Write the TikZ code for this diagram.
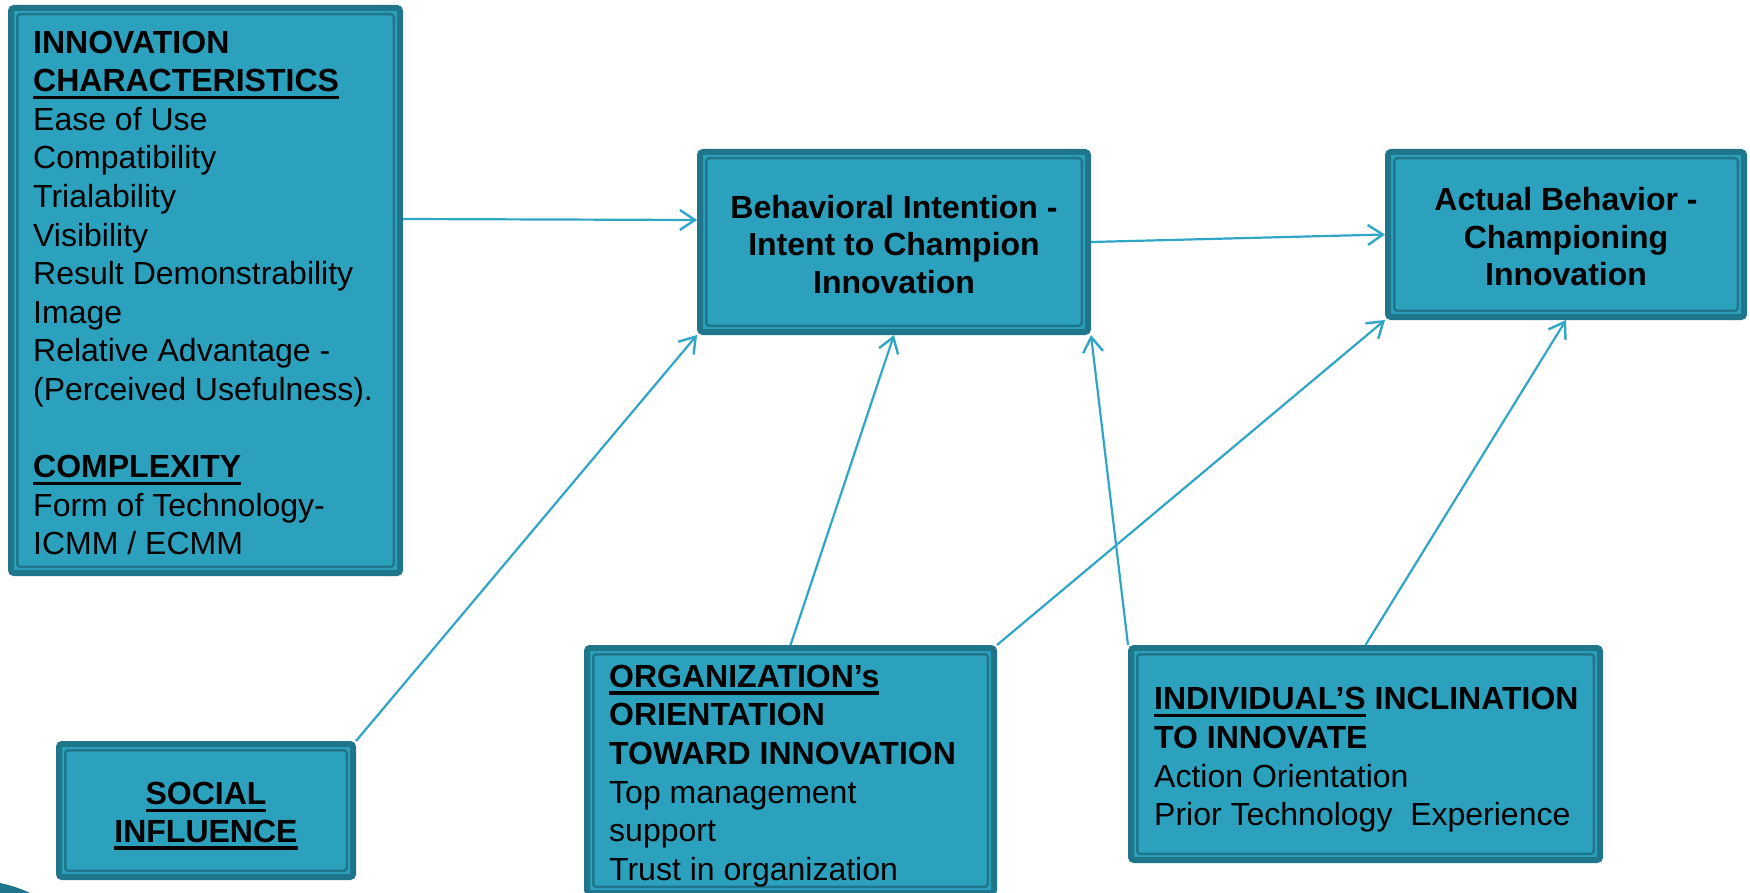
\documentclass[tikz,border=0pt]{standalone}
\usepackage{fontspec}
\setmainfont{Liberation Sans}
\usetikzlibrary{arrows.meta}

\definecolor{boxfill}{HTML}{2CA1BE}
\definecolor{boxedge}{HTML}{1F758A}
\definecolor{linkcol}{HTML}{2FA6C6}

% thick underline used for the headings
\newcommand\ulbar[1]{\setbox0\hbox{#1}\rlap{\rule[-7.3pt]{\wd0}{3.4pt}}\box0\relax}

\tikzset{
  panel/.style={draw=boxedge, fill=boxfill, line width=6pt, rounded corners=3pt,
    outer sep=3pt, inner sep=0pt,
    path picture={\draw[boxedge, line width=2.5pt]
      ([shift={(6.25pt,-6.25pt)}]path picture bounding box.north west) rectangle
      ([shift={(-6.25pt,6.25pt)}]path picture bounding box.south east);}},
  listtext/.style={align=left, inner sep=0pt, text=black,
    font=\fontsize{32}{38.6}\selectfont},
  titletext/.style={align=center, inner sep=0pt, text=black,
    font=\fontsize{32}{37.5}\selectfont\bfseries},
  link/.style={draw=linkcol, line width=2.2pt,
    -{Straight Barb[length=15pt,width=20pt,line width=2.4pt]}}
}

\begin{document}
\begin{tikzpicture}[x=1pt,y=-1pt]
\useasboundingbox (0,0) rectangle (1750,893);

% boxes
\node[panel, minimum width=389pt, minimum height=565pt] (ic) at (205.5,290.5) {};
\node[panel, minimum width=388pt, minimum height=180pt] (bi) at (894,242) {};
\node[panel, minimum width=356pt, minimum height=165pt] (ab) at (1566,234.5) {};
\node[panel, minimum width=294pt, minimum height=133pt] (si) at (206,810.5) {};
\node[panel, minimum width=407pt, minimum height=245pt] (oo) at (790.5,770.5) {};
\node[panel, minimum width=469pt, minimum height=212pt] (ii) at (1365.5,754) {};

% box texts
\node[listtext, anchor=west] (ict) at ([xshift=25pt,yshift=-2.5pt]ic.west) {%
  \textbf{INNOVATION}\\
  \textbf{\ulbar{CHARACTERISTICS}}\\
  Ease of Use\\
  Compatibility\\
  Trialability\\
  Visibility\\
  Result Demonstrability\\
  Image\\
  Relative Advantage -\\
  (Perceived Usefulness).\\[38.6pt]
  \textbf{\ulbar{COMPLEXITY}}\\
  Form of Technology-\\
  ICMM / ECMM};

\node[titletext] (bit) at ([yshift=-2.5pt]bi.center) {Behavioral Intention -\\Intent to Champion\\Innovation};
\node[titletext] (abt) at ([yshift=-2.5pt]ab.center) {Actual Behavior -\\Championing\\Innovation};
\node[titletext] (sit) at ([yshift=-5.5pt]si.center) {\ulbar{SOCIAL}\\\ulbar{INFLUENCE}};

\node[listtext, anchor=west] (oot) at ([xshift=25pt,yshift=-5.5pt]oo.west) {%
  \textbf{\ulbar{ORGANIZATION’s}}\\
  \textbf{ORIENTATION}\\
  \textbf{TOWARD INNOVATION}\\
  Top management\\
  support\\
  Trust in organization};

\node[listtext, anchor=west] (iit) at ([xshift=26pt,yshift=-6pt]ii.west) {%
  \textbf{\ulbar{INDIVIDUAL’S} INCLINATION}\\
  \textbf{TO INNOVATE}\\
  Action Orientation\\
  Prior Technology\ \ Experience};

% connectors
\draw[link] ([yshift=71.5pt]ic.east) -- ([yshift=22pt]bi.west);
\draw[link] (bi.east) -- (ab.west);
\draw[link] (si.north east) -- (bi.south west);
\draw[link] (oo.north) -- (bi.south);
\draw[link] (oo.north east) -- (ab.south west);
\draw[link] (ii.north west) -- (bi.south east);
\draw[link] (ii.north) -- (ab.south);

% corner ornament
\fill[boxedge] (0,883) .. controls (10,885) and (22,889) .. (30,893) -- (0,893) -- cycle;
\end{tikzpicture}
\end{document}
